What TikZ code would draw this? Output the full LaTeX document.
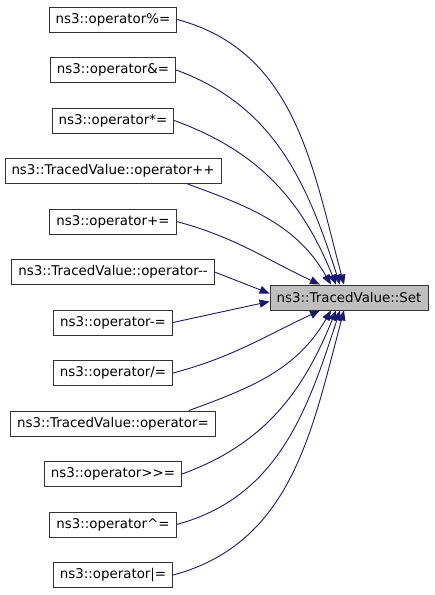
\documentclass[tikz,border=0pt]{standalone}
\usepackage{fontspec}
\setmainfont{DejaVu Sans}
\usepackage{tikz}
\usetikzlibrary{arrows.meta,positioning}
\definecolor{CallBlue}{HTML}{191970}

\begin{document}
\begin{tikzpicture}[x=1pt,y=1pt,font=\fontsize{13.4}{15}\selectfont,
  fn/.style={draw=black!80,fill=white,line width=0.9pt,inner xsep=6.5pt,inner ysep=0pt,minimum height=25pt},
  cur/.style={fn,fill=black!25},
  call/.style={draw=CallBlue,line width=0.9pt,-{Triangle[length=10pt,width=8pt]}}]
\useasboundingbox (0,0) rectangle (435,-595);
% callers
\foreach \lbl [count=\i] in {ns3::operator\%=,ns3::operator\&=,ns3::operator*=,
  ns3::TracedValue::operator++,ns3::operator+=,ns3::TracedValue::operator-{}-,
  ns3::operator-=,ns3::operator/=,ns3::TracedValue::operator=,
  ns3::operator>{}>=,ns3::operator\textasciicircum{}=,ns3::operator|=}{
  \node[fn] (f\i) at (113,{-19.5-50.5*(\i-1)}) {\lbl};
}
% callee
\node[cur] (set) at (349,-297.5) {ns3::TracedValue::Set};
% calls, top half
\draw[call] (f1.east) to[out=-15,in=105] ([xshift=-5pt]set.north);
\draw[call] (f2.east) to[out=-20,in=108] ([xshift=-9pt]set.north);
\draw[call] (f3.east) to[out=-20,in=112] ([xshift=-13pt]set.north);
\draw[call] ([xshift=-34pt]f4.south east) to[out=-20,in=120] ([xshift=-18pt]set.north);
\draw[call] (f5.east) to[out=-15,in=155] ([xshift=-29pt]set.north);
\draw[call] (f6.east) -- ([yshift=4pt]set.west);
% calls, bottom half
\draw[call] (f7.east) -- ([yshift=-4pt]set.west);
\draw[call] (f8.east) to[out=15,in=-155] ([xshift=-29pt]set.south);
\draw[call] ([xshift=-27pt]f9.north east) to[out=20,in=-120] ([xshift=-18pt]set.south);
\draw[call] (f10.east) to[out=20,in=-112] ([xshift=-13pt]set.south);
\draw[call] (f11.east) to[out=15,in=-108] ([xshift=-9pt]set.south);
\draw[call] (f12.east) to[out=15,in=-105] ([xshift=-5pt]set.south);
\end{tikzpicture}
\end{document}
